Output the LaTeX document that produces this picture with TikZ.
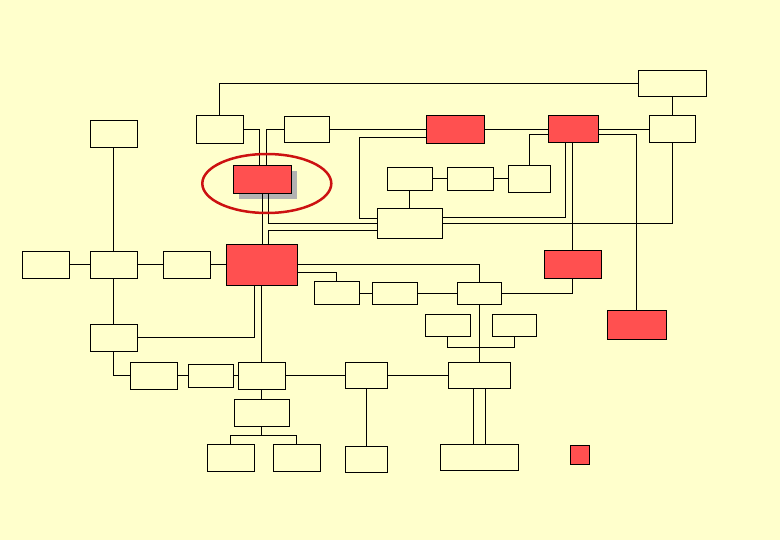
\documentclass[tikz,border=0pt]{standalone}
\usetikzlibrary{calc,shadows}
\definecolor{bgyellow}{HTML}{FFFFCC}
\definecolor{boxred}{HTML}{FF5050}
\definecolor{shadowgray}{HTML}{B2B2B2}
\definecolor{ringred}{HTML}{CC1111}
\begin{document}
\begin{tikzpicture}[x=1pt,y=-1pt,line width=0.8pt,
  box/.style={draw,fill=bgyellow,inner sep=0pt},
  hot/.style={draw,fill=boxred,inner sep=0pt}]
\fill[bgyellow] (0,0) rectangle (780,540);
\useasboundingbox (0,0) rectangle (780,540);
\node[box,minimum width=68,minimum height=26] (topr) at (672,83) {};
\node[box,minimum width=47,minimum height=28] (upa) at (219.5,129) {};
\node[box,minimum width=45,minimum height=26] (upb) at (306.5,129) {};
\node[hot,minimum width=58,minimum height=28] (redi) at (455,129) {};
\node[hot,minimum width=50,minimum height=27] (redii) at (573,129) {};
\node[box,minimum width=46,minimum height=27] (rgt) at (672,129) {};
\node[box,minimum width=47,minimum height=27] (lfttop) at (113.5,133.5) {};
\node[hot,minimum width=58,minimum height=28,
  drop shadow={shadow xshift=6pt,shadow yshift=-6pt,fill=shadowgray,opacity=1}] (focus) at (262,179) {};
\node[box,minimum width=45,minimum height=23] (mida) at (409.5,178.5) {};
\node[box,minimum width=46,minimum height=23] (midb) at (470,178.5) {};
\node[box,minimum width=42,minimum height=27] (midc) at (529,178.5) {};
\node[box,minimum width=65,minimum height=30] (bus) at (409.5,223) {};
\node[box,minimum width=47,minimum height=27] (far) at (45.5,264.5) {};
\node[box,minimum width=47,minimum height=27] (lft) at (113.5,264.5) {};
\node[box,minimum width=47,minimum height=27] (lftb) at (186.5,264.5) {};
\node[hot,minimum width=71,minimum height=41] (hub) at (261.5,264.5) {};
\node[hot,minimum width=57,minimum height=28] (rediii) at (572.5,264) {};
\node[box,minimum width=45,minimum height=23] (rowa) at (336.5,293.3) {};
\node[box,minimum width=45,minimum height=22] (rowb) at (394.5,293.3) {};
\node[box,minimum width=44,minimum height=22] (rowc) at (479.3,293.3) {};
\node[hot,minimum width=59,minimum height=29] (rediv) at (636.5,324.5) {};
\node[box,minimum width=45,minimum height=22] (twa) at (447.5,325) {};
\node[box,minimum width=44,minimum height=22] (twb) at (514,325) {};
\node[box,minimum width=47,minimum height=27] (lftc) at (113.5,337.7) {};
\node[box,minimum width=47,minimum height=27] (lowa) at (153.5,375.5) {};
\node[box,minimum width=45,minimum height=23] (lowb) at (210.8,375.5) {};
\node[box,minimum width=47,minimum height=27] (lowc) at (261.8,375.5) {};
\node[box,minimum width=42,minimum height=26] (lowd) at (366.3,375.5) {};
\node[box,minimum width=62,minimum height=26] (lowe) at (479.3,375.5) {};
\node[box,minimum width=55,minimum height=27] (split) at (261.8,412.8) {};
\node[box,minimum width=47,minimum height=27] (leafa) at (230.8,457.8) {};
\node[box,minimum width=47,minimum height=27] (leafb) at (296.8,457.8) {};
\node[box,minimum width=42,minimum height=26] (leafc) at (366.3,459.3) {};
\node[box,minimum width=78,minimum height=26] (leafd) at (479.3,457.3) {};
\node[hot,minimum width=19,minimum height=19] (sq) at (580,454.7) {};
\draw (upa.north) |- (topr.west);
\draw (upa.east) -| ([xshift=-3pt]focus.north);
\draw (upb.west) -| ([xshift=4pt]focus.north);
\draw (upb.east) -- (redi.west);
\draw ([yshift=-8pt]redi.west) -- ++(-66,0) |- ([yshift=5pt]bus.west);
\draw (redi.east) -- (redii.west);
\draw (redii.east) -- (rgt.west);
\draw (rgt.north) -- (topr.south);
\draw (midc.north) |- ([yshift=-5pt]redii.west);
\draw (mida.east) -- (midb.west);
\draw (midb.east) -- (midc.west);
\draw (mida.south) -- (bus.north);
\draw ([yshift=-5pt]redii.east) -| (rediv.north);
\draw (rediii.north) -- (rediii.north |- redii.south);
\draw ([yshift=6pt]bus.east) -| ([xshift=-8pt]redii.south);
\draw (bus.east) -| (rgt.south);
\draw ([xshift=6pt]focus.south) |- (bus.west);
\draw (focus.south) -- (focus.south |- hub.north);
\draw ([yshift=-7pt]bus.west) -| ([xshift=7pt]hub.north);
\draw (lfttop.south) -- (lft.north);
\draw (far.east) -- (lft.west);
\draw (lft.east) -- (lftb.west);
\draw (lftb.east) -- (hub.west);
\draw (lft.south) -- (lftc.north);
\draw (lftc.east) -| ([xshift=-7pt]hub.south);
\draw (hub.south) -- (hub.south |- lowc.north);
\draw (lftc.south) |- (lowa.west);
\draw (lowa.east) -- (lowb.west);
\draw (lowb.east) -- (lowc.west);
\draw (lowc.east) -- (lowd.west);
\draw (lowd.east) -- (lowe.west);
\draw (hub.east) -| (rowc.north);
\draw ([yshift=-8pt]hub.east) -| (rowa.north);
\draw (rowa.east) -- (rowb.west);
\draw (rowb.east) -- (rowc.west);
\draw (rowc.east) -| (rediii.south);
\draw (rowc.south) -- (lowe.north);
\draw (twa.south) -- ++(0,11) -| (twb.south);
\draw (lowc.south) -- (split.north);
\draw (split.south) -- ++(0,9);
\draw (leafa.north) -- ++(0,-9) -| (leafb.north);
\draw (lowd.south) -- (leafc.north);
\draw ([xshift=-6pt]lowe.south) -- ([xshift=-6pt]lowe.south |- leafd.north);
\draw ([xshift=6pt]lowe.south) -- ([xshift=6pt]lowe.south |- leafd.north);
\draw[ringred,line width=2.5pt] (266.8,183.5) ellipse [x radius=64.5,y radius=29.5];
\end{tikzpicture}
\end{document}
